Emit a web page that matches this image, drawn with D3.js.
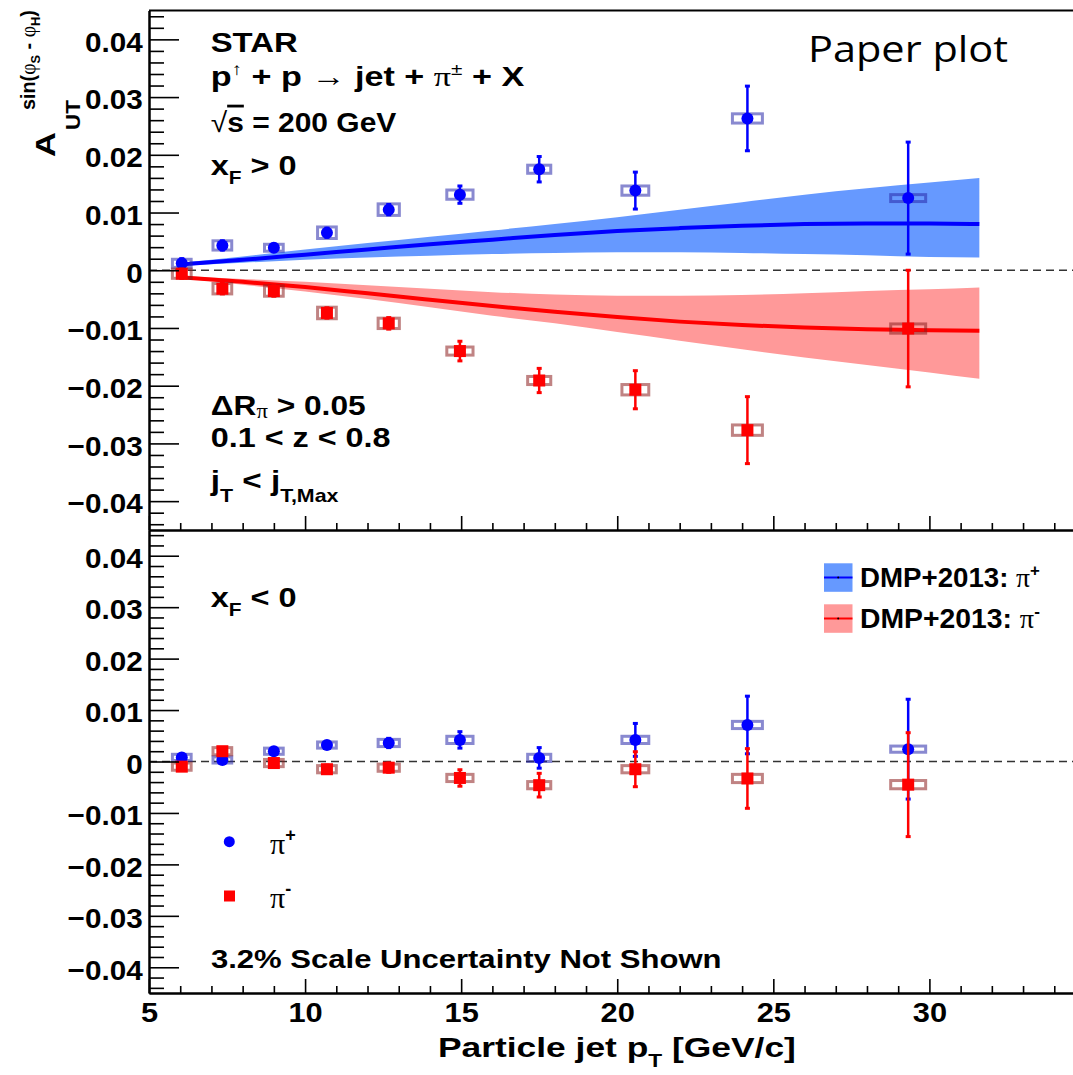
<!DOCTYPE html>
<html><head><meta charset="utf-8">
<script src="https://cdn.jsdelivr.net/npm/d3@7"></script>
<style>
html,body{margin:0;padding:0;background:#fff;}
svg{display:block;}
text{font-family:"Liberation Sans",Arimo,Arial,Helvetica,sans-serif;fill:#000;}
</style></head><body>
<svg id="c" width="1073" height="1075"></svg>
<script>
// ---------------- data ----------------
const ptBins       = [6.05, 7.35, 9.0, 10.7, 12.68, 14.96, 17.5, 20.58, 24.17, 29.32];
const ptSysHalf    = [0.30, 0.30, 0.30, 0.30, 0.34, 0.42, 0.37, 0.43, 0.48, 0.56];

// x_F > 0
const plusFwd      = [0.0012, 0.0043, 0.0039, 0.0065, 0.0105, 0.0131, 0.0175, 0.0138, 0.0263, 0.0125];
const plusFwdStat  = [0.0008, 0.0008, 0.0006, 0.0008, 0.0009, 0.0015, 0.0022, 0.0032, 0.0056, 0.0097];
const plusFwdSys   = [0.0007, 0.0008, 0.0006, 0.0010, 0.0010, 0.0008, 0.0007, 0.0008, 0.0008, 0.0006];
const minusFwd     = [-0.0006, -0.0032, -0.0036, -0.0074, -0.0092, -0.0140, -0.0191, -0.0207, -0.0277, -0.0101];
const minusFwdStat = [0.0008, 0.0009, 0.0009, 0.0009, 0.0010, 0.0017, 0.0021, 0.0033, 0.0058, 0.0101];
const minusFwdSys  = [0.0008, 0.0009, 0.0009, 0.0010, 0.0009, 0.0007, 0.0007, 0.0009, 0.0009, 0.0008];

// x_F < 0
const plusBwd      = [0.0008, 0.0003, 0.0020, 0.0032, 0.0036, 0.0042, 0.0007, 0.0042, 0.0071, 0.0024];
const plusBwdStat  = [0.0006, 0.0006, 0.0006, 0.0006, 0.0009, 0.0016, 0.0020, 0.0032, 0.0056, 0.0097];
const plusBwdSys   = [0.0006, 0.0006, 0.0006, 0.0006, 0.0007, 0.0007, 0.0007, 0.0007, 0.0007, 0.0006];
const minusBwd     = [-0.0010, 0.0020, -0.0003, -0.0015, -0.0012, -0.0032, -0.0046, -0.0015, -0.0033, -0.0045];
const minusBwdStat = [0.0007, 0.0007, 0.0007, 0.0008, 0.0009, 0.0016, 0.0023, 0.0034, 0.0058, 0.0101];
const minusBwdSys  = [0.0007, 0.0007, 0.0007, 0.0007, 0.0007, 0.0007, 0.0007, 0.0007, 0.0008, 0.0008];

// DMP+2013 theory (x_F > 0)
const theoryPt     = [6, 8, 10, 12, 14, 16, 18, 20, 22, 24, 26, 28, 30, 31.6];
const dmpPlusMid   = [0.0010, 0.0018, 0.0027, 0.0036, 0.0045, 0.0053, 0.0061, 0.0068, 0.0073, 0.0077, 0.0080, 0.0081, 0.0081, 0.0080];
const dmpPlusHi    = [0.0013, 0.0024, 0.0036, 0.0047, 0.0058, 0.0069, 0.0080, 0.0092, 0.0105, 0.0118, 0.0131, 0.0142, 0.0152, 0.0160];
const dmpPlusLo    = [0.0008, 0.0013, 0.0018, 0.0022, 0.0025, 0.0028, 0.0030, 0.0031, 0.0031, 0.0030, 0.0028, 0.0026, 0.0023, 0.0022];
const dmpMinusMid  = [-0.0012, -0.0020, -0.0029, -0.0040, -0.0051, -0.0062, -0.0072, -0.0081, -0.0089, -0.0095, -0.0099, -0.0102, -0.0104, -0.0105];
const dmpMinusHi   = [-0.0010, -0.0015, -0.0020, -0.0026, -0.0032, -0.0038, -0.0042, -0.0044, -0.0044, -0.0043, -0.0040, -0.0036, -0.0033, -0.0030];
const dmpMinusLo   = [-0.0014, -0.0025, -0.0037, -0.0050, -0.0064, -0.0079, -0.0092, -0.0107, -0.0122, -0.0137, -0.0151, -0.0164, -0.0177, -0.0188];

// ticks
const xTickValues  = [5, 10, 15, 20, 25, 30];
const xTickLabels  = ["5", "10", "15", "20", "25", "30"];
const yTickValues  = [-0.04, -0.03, -0.02, -0.01, 0, 0.01, 0.02, 0.03, 0.04];
const yTickLabels  = ["\u22120.04", "\u22120.03", "\u22120.02", "\u22120.01", "0", "0.01", "0.02", "0.03", "0.04"];

// ---------------- drawing ----------------
const svg = d3.select("#c");
const x = d3.scaleLinear().domain([5, 34.6]).range([149, 1073]);
const yTop = d3.scaleLinear().domain([-0.045, 0.045]).range([530, 10.5]);
const yBot = d3.scaleLinear().domain([-0.045, 0.045]).range([993, 530]);

const xMinor = d3.range(6, 35).filter(v => v % 5 !== 0);
const yMinor = d3.range(-22, 23).filter(i => i % 5 !== 0).map(i => i * 0.002);

const BLUE = "#0000ff", RED = "#ff0000";
const BLUE_BAND = "#6699ff", RED_BAND = "#ff9999";
const BLUE_SYS = "rgba(40,40,170,0.55)", RED_SYS = "rgba(140,30,30,0.55)";

const layer = svg.append("g");

function zeroLine(y) {
  layer.append("line").attr("x1", x(5)).attr("x2", 1073)
    .attr("y1", y(0)).attr("y2", y(0))
    .attr("stroke", "#333").attr("stroke-width", 1.5).attr("stroke-dasharray", "8,5");
}
zeroLine(yTop); zeroLine(yBot);

// theory bands
function band(mid, hi, lo, fill) {
  const area = d3.area().x((d, i) => x(theoryPt[i])).y0((d, i) => yTop(lo[i])).y1((d, i) => yTop(hi[i])).curve(d3.curveMonotoneX);
  layer.append("path").datum(mid).attr("d", area).attr("fill", fill);
}
function theoryLine(mid, col) {
  const line = d3.line().x((d, i) => x(theoryPt[i])).y(d => yTop(d)).curve(d3.curveMonotoneX);
  layer.append("path").datum(mid).attr("d", line).attr("fill", "none").attr("stroke", col).attr("stroke-width", 4);
}
band(dmpPlusMid, dmpPlusHi, dmpPlusLo, BLUE_BAND);
band(dmpMinusMid, dmpMinusHi, dmpMinusLo, RED_BAND);
theoryLine(dmpPlusMid, BLUE);
theoryLine(dmpMinusMid, RED);

function series(y, vals, stat, sys, col, sysCol, shape) {
  const g = layer.append("g");
  const d = vals.map((v, i) => ({x: ptBins[i], v, e: stat[i], s: sys[i], w: ptSysHalf[i]}));
  g.selectAll("rect.sys").data(d).join("rect").attr("class", "sys")
    .attr("x", p => x(p.x - p.w)).attr("width", p => x(p.x + p.w) - x(p.x - p.w))
    .attr("y", p => y(p.v + p.s)).attr("height", p => Math.max(5, y(p.v - p.s) - y(p.v + p.s)))
    .attr("fill", "none").attr("stroke", sysCol).attr("stroke-width", 3);
  g.selectAll("line.err").data(d).join("line").attr("class", "err")
    .attr("x1", p => x(p.x)).attr("x2", p => x(p.x))
    .attr("y1", p => y(p.v + p.e)).attr("y2", p => y(p.v - p.e))
    .attr("stroke", col).attr("stroke-width", 2.5);
  ["a", "b"].forEach(sg => {
    g.selectAll("line.cap" + sg).data(d).join("line").attr("class", "cap" + sg)
      .attr("x1", p => x(p.x) - 2.5).attr("x2", p => x(p.x) + 2.5)
      .attr("y1", p => y(sg === "a" ? p.v + p.e : p.v - p.e)).attr("y2", p => y(sg === "a" ? p.v + p.e : p.v - p.e))
      .attr("stroke", col).attr("stroke-width", 3);
  });
  if (shape === "circle") {
    g.selectAll("circle").data(d).join("circle").attr("cx", p => x(p.x)).attr("cy", p => y(p.v)).attr("r", 6).attr("fill", col);
  } else {
    g.selectAll("rect.m").data(d).join("rect").attr("class", "m").attr("x", p => x(p.x) - 6).attr("y", p => y(p.v) - 6)
      .attr("width", 12).attr("height", 12).attr("fill", col);
  }
}
series(yTop, plusFwd, plusFwdStat, plusFwdSys, BLUE, BLUE_SYS, "circle");
series(yTop, minusFwd, minusFwdStat, minusFwdSys, RED, RED_SYS, "square");
series(yBot, plusBwd, plusBwdStat, plusBwdSys, BLUE, BLUE_SYS, "circle");
series(yBot, minusBwd, minusBwdStat, minusBwdSys, RED, RED_SYS, "square");

// ---------------- axes ----------------
function styleAxis(g) {
  g.attr("font-family", null);
  g.select(".domain").attr("stroke", "#000").attr("stroke-width", 2);
  g.selectAll(".tick line").attr("stroke", "#000").attr("stroke-width", 1.6);
  g.selectAll(".tick text")
    .style("font-family", '"Liberation Sans",Arimo,Arial,sans-serif').style("font-weight", "bold").style("font-size", "28px").attr("fill", "#000");
}
const yFmt = v => yTickLabels[yTickValues.findIndex(t => Math.abs(t - v) < 1e-9)];
const xFmt = v => xTickLabels[xTickValues.indexOf(v)];

[yTop, yBot].forEach(y => {
  const gm = svg.append("g").attr("transform", "translate(149,0)")
    .call(d3.axisLeft(y).tickValues(yMinor).tickSizeInner(-15).tickSizeOuter(0).tickFormat(""));
  styleAxis(gm);
  const g = svg.append("g").attr("transform", "translate(149,0)")
    .call(d3.axisLeft(y).tickValues(yTickValues).tickSizeInner(-30).tickSizeOuter(0).tickPadding(6).tickFormat(yFmt));
  styleAxis(g);
  g.selectAll(".tick text").attr("dy", "0.42em").attr("transform", "scale(1.06,1)");
});
[[530, false], [993, true]].forEach(([yy, lab]) => {
  const gm = svg.append("g").attr("transform", `translate(0,${yy})`)
    .call(d3.axisBottom(x).tickValues(xMinor).tickSizeInner(-7).tickSizeOuter(0).tickFormat(""));
  styleAxis(gm);
  const g = svg.append("g").attr("transform", `translate(0,${yy})`)
    .call(d3.axisBottom(x).tickValues(xTickValues).tickSizeInner(-14).tickSizeOuter(0).tickPadding(9).tickFormat(lab ? xFmt : ""));
  styleAxis(g);
  g.selectAll(".tick text").attr("transform", "scale(1.1,1)");
});
// top frame
svg.append("line").attr("x1", 149).attr("x2", 1073).attr("y1", 10.5).attr("y2", 10.5).attr("stroke", "#000").attr("stroke-width", 2);

// ---------------- text ----------------
function label(x0, y0, build, targetW, opt = {}) {
  const g = svg.append("g").attr("transform", `translate(${x0},${y0})${opt.rot ? " rotate(-90)" : ""}`);
  const t = g.append("text").attr("x", 0).attr("y", 0)
    .style("font-weight", opt.weight || "bold").style("font-size", (opt.size || 28) + "px");
  if (opt.family) t.style("font-family", opt.family);
  build(t);
  if (targetW) {
    const w = t.node().getBBox().width;
    g.attr("transform", `translate(${x0},${y0})${opt.rot ? " rotate(-90)" : ""} scale(${targetW / w},1)`);
  }
  return t;
}
function ts(t, txt, o = {}) {
  const s = t.append("tspan").text(txt);
  if (o.dy !== undefined) s.attr("dy", o.dy);
  if (o.size) s.style("font-size", o.size + "px");
  if (o.family) s.style("font-family", o.family);
  if (o.weight) s.style("font-weight", o.weight);
  if (o.deco) s.style("text-decoration", o.deco);
  return s;
}
const SERIF = '"Liberation Serif","DejaVu Serif",serif';

label(210.7, 51.7, t => ts(t, "STAR"), 87);
label(210.7, 86, t => {
  ts(t, "p");
  ts(t, "\u2191", {dy: -11, size: 17, weight: "normal"});
  ts(t, " + p ", {dy: 11});
  ts(t, "\u2192", {weight: "normal"});
  ts(t, " jet + ");
  ts(t, "\u03c0", {family: SERIF, weight: "normal"});
  ts(t, "\u00b1", {dy: -11, size: 17, weight: "normal"});
  ts(t, " + X", {dy: 11});
}, 314);
label(210.7, 131.7, t => {
  ts(t, "\u221a", {weight: "normal"});
  ts(t, "s", {deco: "overline"});
  ts(t, " = 200 GeV");
}, 186);
label(210.7, 175, t => { ts(t, "x"); ts(t, "F", {dy: 9, size: 18}); ts(t, " > 0", {dy: -9}); }, 86);
label(210.7, 415, t => {
  ts(t, "\u0394R");
  ts(t, "\u03c0", {dy: 3, size: 20, family: SERIF, weight: "normal"});
  ts(t, " > 0.05", {dy: -3});
}, 155);
label(210.7, 446.7, t => ts(t, "0.1 < z < 0.8"), 180);
label(210.7, 490, t => {
  ts(t, "j"); ts(t, "T", {dy: 12, size: 18}); ts(t, " < j", {dy: -12}); ts(t, "T,Max", {dy: 12, size: 18});
}, 129);
label(210.7, 607, t => { ts(t, "x"); ts(t, "F", {dy: 9, size: 18}); ts(t, " < 0", {dy: -9}); }, 86);
label(210.9, 968.3, t => ts(t, "3.2% Scale Uncertainty Not Shown", {}), 511, {size: 26});
label(438, 1056.7, t => { ts(t, "Particle jet p"); ts(t, "T", {dy: 10, size: 18}); ts(t, " [GeV/c]", {dy: -10}); }, 358);
label(808, 62, t => ts(t, "Paper plot"), 200, {weight: "normal", size: 37, family: '"Open Sans",Lato,sans-serif'});

// Y-axis title (rotated)
label(55, 157, t => ts(t, "A"), 25, {rot: true, size: 27});
label(80, 130, t => ts(t, "UT"), 30, {rot: true, size: 21});
label(35, 110, t => {
  ts(t, "sin(");
  ts(t, "\u03c6", {family: SERIF, weight: "normal"});
  ts(t, "S", {dy: 5, size: 13});
  ts(t, " - ", {dy: -5});
  ts(t, "\u03c6", {family: SERIF, weight: "normal"});
  ts(t, "H", {dy: 5, size: 13});
  ts(t, ")", {dy: -5});
}, 100, {rot: true, size: 20});

// marker legend (lower-left)
svg.append("circle").attr("cx", 229.3).attr("cy", 841.7).attr("r", 5.5).attr("fill", BLUE);
svg.append("rect").attr("x", 224).attr("y", 890.5).attr("width", 11).attr("height", 11).attr("fill", RED);
label(270, 854, t => { ts(t, "\u03c0", {family: SERIF, weight: "normal", size: 30}); ts(t, "+", {dy: -13, size: 18}); });
label(270, 908, t => { ts(t, "\u03c0", {family: SERIF, weight: "normal", size: 30}); ts(t, "-", {dy: -13, size: 18}); });

// theory legend (bottom panel, upper right)
[[563.3, BLUE_BAND, BLUE, "+"], [604.3, RED_BAND, RED, "-"]].forEach(([yy, fill, col, sg]) => {
  svg.append("rect").attr("x", 824).attr("y", yy).attr("width", 28.5).attr("height", 28.5).attr("fill", fill);
  svg.append("line").attr("x1", 824).attr("x2", 852.5).attr("y1", yy + 14.2).attr("y2", yy + 14.2).attr("stroke", col).attr("stroke-width", 2);
  svg.append("circle").attr("cx", 838.2).attr("cy", yy + 14.2).attr("r", 1).attr("fill", "#000");
  label(860, yy + 23.5, t => {
    ts(t, "DMP+2013: ");
    ts(t, "\u03c0", {family: SERIF, weight: "normal"});
    ts(t, sg, {dy: -11, size: 17});
  }, 180);
});
</script>
</body></html>
